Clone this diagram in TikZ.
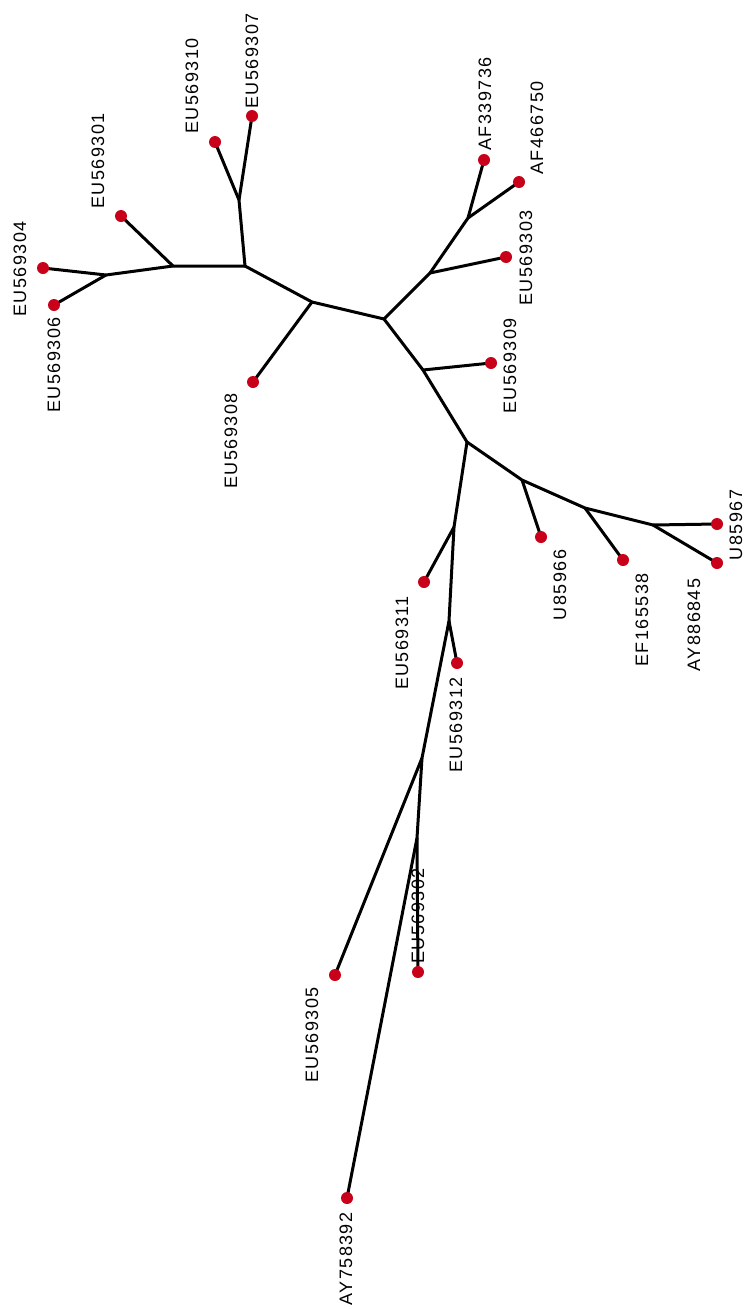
\documentclass[tikz,border=0pt]{standalone}
\usepackage{fontspec}
\newfontfamily\taxonfont[LetterSpace=8]{Liberation Sans}
\definecolor{tipred}{RGB}{200,0,25}
\begin{document}
\begin{tikzpicture}[x=1pt,y=-1pt,
  branch/.style={line width=3pt,line cap=round,line join=round},
  tip/.style={circle,fill=tipred,inner sep=0pt,minimum size=12pt},
  taxon/.style={rotate=90,font=\taxonfont\fontsize{18}{18}\selectfont,text=black,inner sep=0pt,anchor=center}]
\useasboundingbox (0,0) rectangle (746,1309);

% internal nodes
\coordinate (F) at (384,319);
\coordinate (E) at (312,302);
\coordinate (B) at (245,266);
\coordinate (A) at (239,200);
\coordinate (C) at (173,266);
\coordinate (D) at (106,275);
\coordinate (H) at (430,273);
\coordinate (G) at (468,218);
\coordinate (I) at (423,370);
\coordinate (J) at (467,442);
\coordinate (K) at (522,480);
\coordinate (L) at (585,508);
\coordinate (M) at (653,525);
\coordinate (N) at (454,527);
\coordinate (O) at (449,621);
\coordinate (P) at (422,758);
\coordinate (Q) at (417,838);

% tips
\coordinate (t307) at (252,116);
\coordinate (t310) at (215,142);
\coordinate (t301) at (121,216);
\coordinate (t304) at (43,268);
\coordinate (t306) at (54,305);
\coordinate (t308) at (253,382);
\coordinate (t736) at (484,160);
\coordinate (t750) at (519,182);
\coordinate (t303) at (506,257);
\coordinate (t309) at (491,363);
\coordinate (t966) at (541,537);
\coordinate (t538) at (623,560);
\coordinate (t967) at (717,524);
\coordinate (t845) at (717,563);
\coordinate (t311) at (424,582);
\coordinate (t312) at (457,663);
\coordinate (t305) at (335,975);
\coordinate (t302) at (418,972);
\coordinate (t392) at (347,1198);

% branches
\draw[branch] (F) -- (E) -- (B) -- (A) -- (t307);
\draw[branch] (A) -- (t310);
\draw[branch] (E) -- (t308);
\draw[branch] (B) -- (C) -- (D) -- (t304);
\draw[branch] (C) -- (t301);
\draw[branch] (D) -- (t306);
\draw[branch] (F) -- (H) -- (G) -- (t736);
\draw[branch] (G) -- (t750);
\draw[branch] (H) -- (t303);
\draw[branch] (F) -- (I) -- (J) -- (K) -- (L) -- (M) -- (t967);
\draw[branch] (I) -- (t309);
\draw[branch] (K) -- (t966);
\draw[branch] (L) -- (t538);
\draw[branch] (M) -- (t845);
\draw[branch] (J) -- (N) -- (O) -- (P) -- (Q) -- (t302);
\draw[branch] (N) -- (t311);
\draw[branch] (O) -- (t312);
\draw[branch] (P) -- (t305);
\draw[branch] (Q) -- (t392);

% tip markers
\foreach \t in {307,310,301,304,306,308,736,750,303,309,966,538,967,845,311,312,305,302,392}
  \node[tip] (dot\t) at (t\t) {};

% tip labels
\node[taxon] (l307) at (252,61) {EU569307};
\node[taxon] (l310) at (192,86) {EU569310};
\node[taxon] (l301) at (98,161) {EU569301};
\node[taxon] (l304) at (20,269) {EU569304};
\node[taxon] (l306) at (54,365) {EU569306};
\node[taxon] (l308) at (231,441) {EU569308};
\node[taxon] (l736) at (485,104) {AF339736};
\node[taxon] (l750) at (537,128) {AF466750};
\node[taxon] (l303) at (526,258) {EU569303};
\node[taxon] (l309) at (510,366) {EU569309};
\node[taxon] (l966) at (560,585) {U85966};
\node[taxon] (l538) at (642,620) {EF165538};
\node[taxon] (l845) at (694,625) {AY886845};
\node[taxon] (l967) at (736,525) {U85967};
\node[taxon] (l311) at (402,643) {EU569311};
\node[taxon] (l312) at (456,725) {EU569312};
\node[taxon] (l305) at (312,1035) {EU569305};
\node[taxon] (l302) at (418,916) {EU569302};
\node[taxon] (l392) at (346,1259) {AY758392};
\end{tikzpicture}
\end{document}
